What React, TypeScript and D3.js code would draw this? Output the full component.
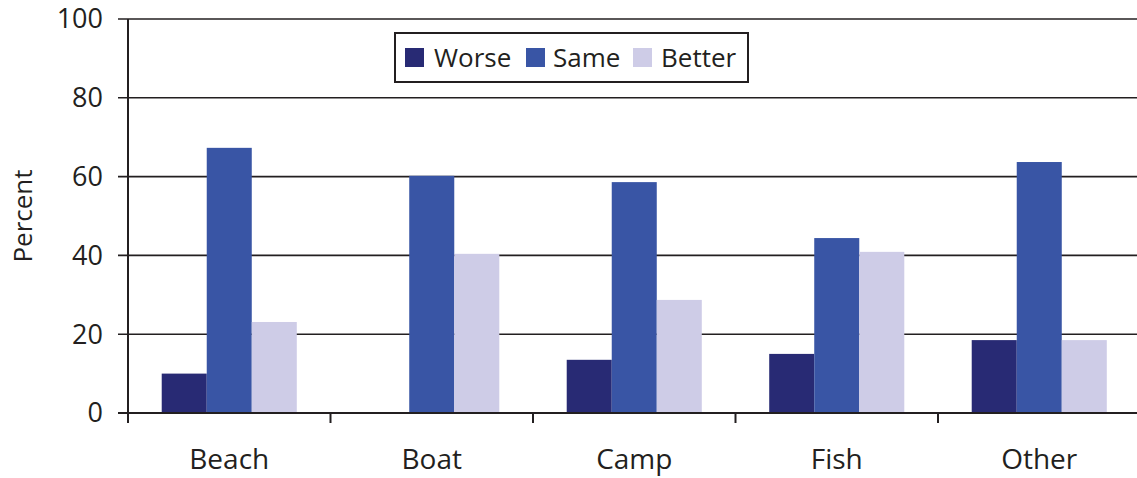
import React from "react";
import * as d3 from "d3";

const categories = ["Beach", "Boat", "Camp", "Fish", "Other"];
const seriesNames = ["Worse", "Same", "Better"];
const worse = [10, 0, 13.5, 15, 18.5];
const same = [67.3, 60.2, 58.6, 44.4, 63.7];
const better = [23.1, 40.4, 28.7, 40.9, 18.5];
const yTicks = [0, 20, 40, 60, 80, 100];
const colors = ["#282a74", "#3955a5", "#cecce7"];

const W = 1137;
const H = 478;
const FONT = "'Open Sans', Lato, sans-serif";

export default function App() {
  const seriesValues = [worse, same, better];
  const x0 = 128;
  const x1 = 1140.5;
  const y = d3.scaleLinear().domain([0, 100]).range([413, 19]);
  const xBand = d3.scaleBand().domain(categories).range([x0, x1]).paddingInner(0).paddingOuter(0);
  const groupW = xBand.bandwidth() * 0.667;
  const xInner = d3
    .scaleBand()
    .domain(seriesNames)
    .range([(xBand.bandwidth() - groupW) / 2, (xBand.bandwidth() + groupW) / 2]);
  const axisColor = "#231f20";
  const legendItems = [
    { name: "Worse", sx: 405, tx: 434 },
    { name: "Same", sx: 526, tx: 553 },
    { name: "Better", sx: 633, tx: 661 },
  ];
  return (
    <svg
      width={W}
      height={H}
      style={{ position: "absolute", left: 0, top: 0, background: "#fff" }}
      fontFamily={FONT}
    >
      {yTicks.map((t) => (
        <g key={t}>
          <line x1={118} x2={W} y1={y(t)} y2={y(t)} stroke={axisColor} strokeWidth={t === 0 ? 2 : 1.6} />
          <text x={103} y={y(t)} dy="0.35em" textAnchor="end" fontSize={27} fill="#231f20">
            {t}
          </text>
        </g>
      ))}
      {categories.map((c, i) => (
        <g key={c} transform={`translate(${xBand(c)},0)`}>
          {seriesNames.map((s, j) => {
            const v = seriesValues[j][i];
            if (v <= 0) return null;
            return (
              <rect
                key={s}
                x={xInner(s)!}
                width={xInner.bandwidth()}
                y={y(v)}
                height={y(0) - y(v)}
                fill={colors[j]}
              />
            );
          })}
        </g>
      ))}
      <line x1={x0} x2={x0} y1={y(100)} y2={y(0) + 10} stroke={axisColor} strokeWidth={2} />
      <line x1={x0} x2={W} y1={y(0)} y2={y(0)} stroke={axisColor} strokeWidth={2} />
      {categories.map((c, i) => (
        <g key={c}>
          {i > 0 && (
            <line x1={xBand(c)!} x2={xBand(c)!} y1={y(0)} y2={y(0) + 10} stroke={axisColor} strokeWidth={2} />
          )}
          <text
            x={xBand(c)! + xBand.bandwidth() / 2}
            y={469}
            textAnchor="middle"
            fontSize={28}
            fill="#231f20"
          >
            {c}
          </text>
        </g>
      ))}
      <text
        transform={`translate(32,${y(50)}) rotate(-90)`}
        textAnchor="middle"
        fontSize={26}
        fill="#231f20"
      >
        Percent
      </text>
      <rect x={395} y={33} width={353} height={49} fill="#fff" stroke={axisColor} strokeWidth={2} />
      {legendItems.map((l, j) => (
        <g key={l.name}>
          <rect x={l.sx} y={48} width={19} height={19} fill={colors[j]} />
          <text x={l.tx} y={58} dy="0.35em" fontSize={26} fill="#231f20">
            {l.name}
          </text>
        </g>
      ))}
    </svg>
  );
}
